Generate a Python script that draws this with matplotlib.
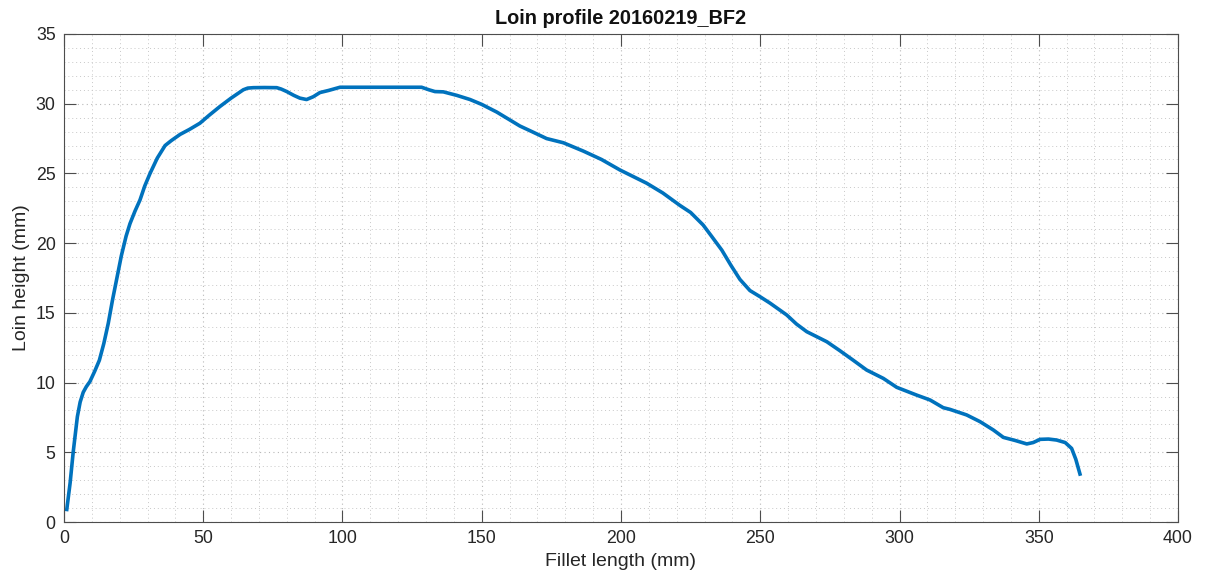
import matplotlib
matplotlib.use("Agg")
import matplotlib.pyplot as plt
from matplotlib.ticker import MultipleLocator

# profile (mm)
fillet_length = [1.0, 2.2, 3.3, 4.8, 5.8, 6.9, 8.0, 9.3, 11.0, 12.7, 14.3, 15.9, 17.4,
                 18.9, 20.6, 22.3, 23.7, 25.5, 27.3, 29.0, 30.9, 33.5, 36.3, 38.5,
                 41.7, 45.0, 48.8, 52.0, 56.0, 60.0, 64.4, 66.0, 68.0, 72.0, 76.4,
                 78.0, 80.0, 82.5, 84.7, 87.1, 89.5, 91.9, 95.0, 99.1, 110.0, 128.4,
                 131.0, 133.2, 136.2, 141.0, 145.8, 150.0, 155.4, 163.7, 168.0, 173.3,
                 179.3, 186.5, 193.0, 199.6, 209.2, 215.0, 221.2, 225.0, 229.5, 232.5,
                 236.2, 239.5, 242.7, 246.3, 250.0, 253.5, 259.5, 263.0, 266.7, 273.9,
                 278.5, 283.4, 288.2, 294.2, 299.0, 306.2, 311.0, 315.7, 318.1, 324.1,
                 328.9, 333.7, 337.3, 341.5, 345.7, 348.0, 350.5, 353.5, 356.4, 359.5,
                 361.8, 363.3, 364.8]
loin_height = [0.9, 2.8, 5.0, 7.55, 8.6, 9.3, 9.7, 10.07, 10.8, 11.6, 12.8, 14.25, 15.9,
               17.4, 19.1, 20.5, 21.4, 22.3, 23.1, 24.1, 25.0, 26.1, 27.0, 27.35,
               27.8, 28.15, 28.6, 29.15, 29.8, 30.4, 31.0, 31.12, 31.15, 31.16, 31.15,
               31.05, 30.87, 30.6, 30.4, 30.3, 30.5, 30.8, 30.95, 31.18, 31.18, 31.18,
               31.0, 30.87, 30.85, 30.6, 30.3, 29.95, 29.4, 28.4, 28.0, 27.5,
               27.2, 26.6, 26.0, 25.25, 24.3, 23.6, 22.7, 22.2, 21.3, 20.5,
               19.5, 18.4, 17.4, 16.6, 16.15, 15.7, 14.85, 14.2, 13.65, 12.93,
               12.3, 11.6, 10.9, 10.3, 9.66, 9.1, 8.75, 8.2, 8.08, 7.68,
               7.2, 6.6, 6.07, 5.85, 5.6, 5.7, 5.93, 5.95, 5.88, 5.7,
               5.28, 4.5, 3.44]

plt.rcParams['font.family'] = ['Liberation Sans', 'DejaVu Sans']
axis_col = '#262626'

fig = plt.figure(figsize=(12.05, 5.88), dpi=100)
ax = fig.add_axes([0.0531, 0.1122, 0.9245, 0.83])

ax.plot(fillet_length, loin_height, color='#0072BD', linewidth=2.6,
        solid_joinstyle='round')

ax.set_xlim(0, 400)
ax.set_ylim(0, 35)
ax.xaxis.set_major_locator(MultipleLocator(50))
ax.yaxis.set_major_locator(MultipleLocator(5))
ax.xaxis.set_minor_locator(MultipleLocator(10))
ax.yaxis.set_minor_locator(MultipleLocator(1))

dots = (0, (1, 3))
ax.grid(which='major', linestyle=dots, color='#b8b8b8', linewidth=0.8)
ax.grid(which='minor', linestyle=dots, color='#c8c8c8', linewidth=0.7)
ax.set_axisbelow(True)

ax.tick_params(which='major', direction='in', length=8.5, width=0.8,
               top=True, right=True, color='#4d4d4d', labelcolor=axis_col,
               labelsize=12.8, pad=6)
ax.tick_params(which='minor', length=0, top=True, right=True)
for s in ax.spines.values():
    s.set_color('#4d4d4d')
    s.set_linewidth(0.8)

ax.set_xlabel('Fillet length (mm)', fontsize=14, color=axis_col, labelpad=4)
ax.set_ylabel('Loin height (mm)', fontsize=14, color=axis_col, labelpad=4)
ax.set_title('Loin profile 20160219_BF2', fontsize=14.3, fontweight='bold',
             color='#111111', pad=7)

fig.savefig('out.png', dpi=100)
